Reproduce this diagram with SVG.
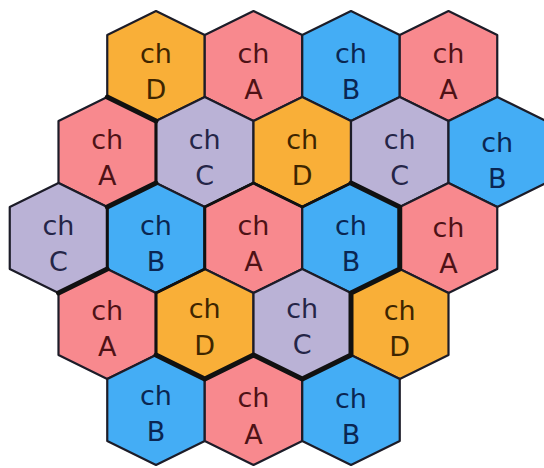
<svg xmlns="http://www.w3.org/2000/svg" xmlns:xlink="http://www.w3.org/1999/xlink" width="544" height="468" viewBox="0 0 544 468">
<style>
.h{stroke:#1c1c28;stroke-width:2.2;stroke-linejoin:round}
.pk{fill:#F8898E}.bl{fill:#44ADF5}.or{fill:#F9AF38}.li{fill:#BAB2D6}
text{font-family:"DejaVu Sans","Verdana",sans-serif;font-size:27px;text-anchor:middle}
.tpk{fill:#4e1216}.tbl{fill:#0a2652}.tor{fill:#3e2500}.tli{fill:#252547}
.thick{fill:none;stroke:#111;stroke-width:5;stroke-linejoin:round;stroke-linecap:round}
.med{fill:none;stroke:#111;stroke-width:3;stroke-linejoin:round;stroke-linecap:round}
</style>
<defs>
<polygon id="hx" points="0,-55 48.75,-31 48.75,31 0,55 -48.75,31 -48.75,-31"/>
</defs>
<rect width="544" height="468" fill="#fff"/>
<g id="cells">
<g id="r1c1"><use xlink:href="#hx" href="#hx" x="156" y="66" class="h or"/><text x="156" y="63" class="tor">ch</text><text x="156" y="99" class="tor">D</text></g>
<g id="r1c2"><use xlink:href="#hx" href="#hx" x="253.5" y="66" class="h pk"/><text x="253.5" y="63" class="tpk">ch</text><text x="253.5" y="99" class="tpk">A</text></g>
<g id="r1c3"><use xlink:href="#hx" href="#hx" x="351" y="66" class="h bl"/><text x="351" y="63" class="tbl">ch</text><text x="351" y="99" class="tbl">B</text></g>
<g id="r1c4"><use xlink:href="#hx" href="#hx" x="448.5" y="66" class="h pk"/><text x="448.5" y="63" class="tpk">ch</text><text x="448.5" y="99" class="tpk">A</text></g>

<g id="r2c1"><use xlink:href="#hx" href="#hx" x="107.25" y="152" class="h pk"/><text x="107.25" y="149" class="tpk">ch</text><text x="107.25" y="185" class="tpk">A</text></g>
<g id="r2c2"><use xlink:href="#hx" href="#hx" x="204.75" y="152" class="h li"/><text x="204.75" y="149" class="tli">ch</text><text x="204.75" y="185" class="tli">C</text></g>
<g id="r2c3"><use xlink:href="#hx" href="#hx" x="302.25" y="152" class="h or"/><text x="302.25" y="149" class="tor">ch</text><text x="302.25" y="185" class="tor">D</text></g>
<g id="r2c4"><use xlink:href="#hx" href="#hx" x="399.75" y="152" class="h li"/><text x="399.75" y="149" class="tli">ch</text><text x="399.75" y="185" class="tli">C</text></g>
<g id="r2c5"><use xlink:href="#hx" href="#hx" x="497.25" y="152" class="h bl"/><text x="497.25" y="152" class="tbl">ch</text><text x="497.25" y="188" class="tbl">B</text></g>

<g id="r3c1"><use xlink:href="#hx" href="#hx" x="58.5" y="238" class="h li"/><text x="58.5" y="235" class="tli">ch</text><text x="58.5" y="271" class="tli">C</text></g>
<g id="r3c2"><use xlink:href="#hx" href="#hx" x="156" y="238" class="h bl"/><text x="156" y="235" class="tbl">ch</text><text x="156" y="271" class="tbl">B</text></g>
<g id="r3c3"><use xlink:href="#hx" href="#hx" x="253.5" y="238" class="h pk"/><text x="253.5" y="235" class="tpk">ch</text><text x="253.5" y="271" class="tpk">A</text></g>
<g id="r3c4"><use xlink:href="#hx" href="#hx" x="351" y="238" class="h bl"/><text x="351" y="235" class="tbl">ch</text><text x="351" y="271" class="tbl">B</text></g>
<g id="r3c5"><use xlink:href="#hx" href="#hx" x="448.5" y="238" class="h pk"/><text x="448.5" y="237" class="tpk">ch</text><text x="448.5" y="273" class="tpk">A</text></g>

<g id="r4c1"><use xlink:href="#hx" href="#hx" x="107.25" y="324" class="h pk"/><text x="107.25" y="320" class="tpk">ch</text><text x="107.25" y="356" class="tpk">A</text></g>
<g id="r4c2"><use xlink:href="#hx" href="#hx" x="204.75" y="324" class="h or"/><text x="204.75" y="318" class="tor">ch</text><text x="204.75" y="355" class="tor">D</text></g>
<g id="r4c3"><use xlink:href="#hx" href="#hx" x="302.25" y="324" class="h li"/><text x="302.25" y="318" class="tli">ch</text><text x="302.25" y="354" class="tli">C</text></g>
<g id="r4c4"><use xlink:href="#hx" href="#hx" x="399.75" y="324" class="h or"/><text x="399.75" y="320" class="tor">ch</text><text x="399.75" y="356" class="tor">D</text></g>

<g id="r5c1"><use xlink:href="#hx" href="#hx" x="156" y="410" class="h bl"/><text x="156" y="405" class="tbl">ch</text><text x="156" y="441" class="tbl">B</text></g>
<g id="r5c2"><use xlink:href="#hx" href="#hx" x="253.5" y="410" class="h pk"/><text x="253.5" y="407" class="tpk">ch</text><text x="253.5" y="444" class="tpk">A</text></g>
<g id="r5c3"><use xlink:href="#hx" href="#hx" x="351" y="410" class="h bl"/><text x="351" y="408" class="tbl">ch</text><text x="351" y="444" class="tbl">B</text></g>
</g>
<g id="connectors">
<polyline class="thick" points="107.25,97 156,121"/>
<polyline class="med" points="156,121 156,183"/>
<polyline class="thick" points="156,183 107.25,207"/>
<polyline class="med" points="107.25,207 107.25,269"/>
<polyline class="thick" points="107.25,269 58.5,293"/>
<polyline class="thick" points="351,183 399.75,207 399.75,269 351,293 351,355 302.25,379 253.5,355 204.75,379 156,355"/>
<polyline class="med" points="156,355 156,293 204.75,269 204.75,207 253.5,183 302.25,207 351,183"/>
</g>
</svg>
